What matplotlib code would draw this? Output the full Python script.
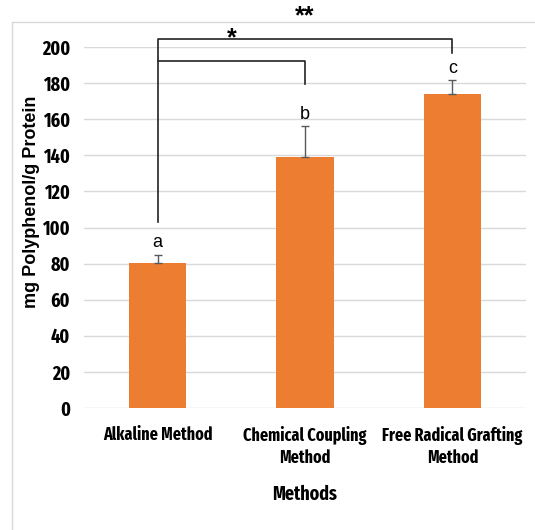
import matplotlib.pyplot as plt
from matplotlib.patches import Rectangle

methods = ["Alkaline Method", "Chemical Coupling\nMethod", "Free Radical Grafting\nMethod"]
content = [80.5, 139, 174]
err_up = [4.5, 17, 7.5]
letters = ["a", "b", "c"]
yticks = [0, 20, 40, 60, 80, 100, 120, 140, 160, 180, 200]

narrow = ["Fira Sans Extra Condensed", "Roboto Condensed", "Liberation Sans", "DejaVu Sans"]
regular = ["Liberation Sans", "DejaVu Sans"]

fig = plt.figure(figsize=(5.35, 5.30), dpi=100)
fig.patches.append(Rectangle((12 / 535, -0.1), 1.2, 1.1 - 22 / 530, transform=fig.transFigure,
                             fill=False, edgecolor="#d9d9d9", linewidth=1.0))

ax = fig.add_axes([84 / 535, 1 - 408 / 530, 442 / 535, (408 - 47) / 530])
x = range(len(methods))
ax.bar(x, content, width=0.39, color="#ed7d31", zorder=3)
ax.errorbar(x, content, yerr=[[0] * 3, err_up], fmt="none", ecolor="#595959",
            elinewidth=1.0, capsize=3, capthick=1.0, zorder=4)

for i, lab in enumerate(letters):
    ax.text(i, content[i] + err_up[i] + 2, lab, ha="center", va="bottom",
            fontsize=13, family=regular)

ax.set_xlim(-0.5, 2.5)
ax.set_ylim(0, 200)
ax.set_yticks(yticks)
ax.set_yticklabels([str(v) for v in yticks], fontsize=14, fontweight="bold", family=narrow)
ax.set_xticks(list(x))
ax.set_xticklabels(methods, fontsize=12.5, fontweight="bold", family=narrow, linespacing=1.25)
ax.tick_params(axis="both", length=0)
ax.tick_params(axis="y", pad=10)
ax.tick_params(axis="x", pad=13)
ax.grid(axis="y", color="#d9d9d9", linewidth=1.0, zorder=0)
for s in ax.spines.values():
    s.set_visible(False)

ax.set_xlabel("Methods", fontsize=14, fontweight="bold", family=narrow, labelpad=13)
ax.set_ylabel("mg Polyphenol/g Protein", fontsize=13, fontweight="bold", family=regular)
ax.yaxis.set_label_coords(-0.1, 0.57)

# significance brackets
kw = dict(color="#222222", linewidth=1.2, clip_on=False, zorder=5)
ax.plot([0, 0, 2, 2], [103, 204.6, 204.6, 196.7], **kw)
ax.plot([0, 1, 1], [192.2, 192.2, 179.5], **kw)
ax.text(0.5, 204.6, "*", ha="center", va="center", fontsize=18, fontweight="bold",
        family=regular)
ax.text(1.0, 217, "**", ha="center", va="center", fontsize=18, fontweight="bold",
        family=regular)

fig.savefig("out.png", dpi=100)
